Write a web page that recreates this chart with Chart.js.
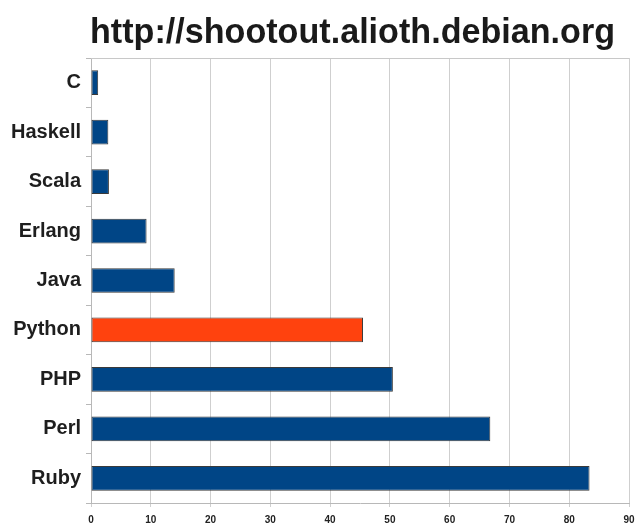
<!DOCTYPE html>
<html>
<head>
<meta charset="utf-8">
<script src="https://cdn.jsdelivr.net/npm/chart.js@4.4.0/dist/chart.umd.min.js"></script>
<style>
  html, body { margin: 0; padding: 0; background: #fff; }
  #wrap { position: relative; width: 639px; height: 524px; }
  #title { position: absolute; left: 90px; top: 11px; font: bold 35px/40px "Liberation Sans", Arial, sans-serif; color: #1a1a1a; white-space: nowrap; transform: scaleX(0.975); transform-origin: left top; }
  canvas { position: absolute; left: 0; top: 0; }
</style>
</head>
<body>
<div id="wrap">
  <canvas id="c" width="639" height="524"></canvas>
  <div id="title">http://shootout.alioth.debian.org</div>
</div>
<script>
const languages = ['C', 'Haskell', 'Scala', 'Erlang', 'Java', 'Python', 'PHP', 'Perl', 'Ruby'];
const values = [1.2, 2.9, 3.0, 9.3, 14.0, 45.5, 50.5, 66.8, 83.4];
const xTicks = [0, 10, 20, 30, 40, 50, 60, 70, 80, 90];
const highlighted = 'Python';

const BLUE = '#004586', ORANGE = '#ff420e';
const topLine = {
  id: 'topLine',
  afterDraw(chart) {
    const a = chart.chartArea, ctx = chart.ctx;
    ctx.save();
    ctx.strokeStyle = '#c8c8c8';
    ctx.lineWidth = 1;
    ctx.beginPath();
    ctx.moveTo(a.left, a.top + 0.5);
    ctx.lineTo(a.right, a.top + 0.5);
    ctx.stroke();
    ctx.restore();
  }
};

new Chart(document.getElementById('c'), {
  type: 'bar',
  data: {
    labels: languages,
    datasets: [{
      data: values,
      backgroundColor: languages.map(l => l === highlighted ? ORANGE : BLUE),
      borderColor: '#3a3a3a',
      borderWidth: 1,
      borderSkipped: false,
      barPercentage: 0.5,
      categoryPercentage: 1.0
    }]
  },
  options: {
    indexAxis: 'y',
    responsive: false,
    animation: false,
    devicePixelRatio: 1,
    layout: { padding: { top: 58, right: 10, left: 0, bottom: 0 } },
    plugins: { legend: { display: false }, title: { display: false }, tooltip: { enabled: false } },
    scales: {
      x: {
        min: 0, max: 90,
        afterBuildTicks(scale) { scale.ticks = xTicks.map(v => ({ value: v })); },
        afterFit(scale) { scale.height = 21; scale.paddingLeft = 0; scale.paddingRight = 0; },
        ticks: { font: { family: 'Liberation Sans', size: 10, weight: 'bold' }, color: '#222', padding: 7, maxRotation: 0 },
        grid: { color: '#cfcfcf', tickLength: 4, drawTicks: true },
        border: { display: true, color: '#b8b8b8' }
      },
      y: {
        afterFit(scale) { scale.width = 91; scale.paddingTop = 0; scale.paddingBottom = 0; },
        ticks: { font: { family: 'Liberation Sans', size: 20, weight: 'bold' }, color: '#1e1e1e', padding: 5 },
        grid: { offset: true, drawOnChartArea: false, drawTicks: true, tickLength: 5, color: '#b8b8b8' },
        border: { display: true, color: '#b8b8b8' }
      }
    }
  },
  plugins: [topLine]
});
</script>
</body>
</html>
